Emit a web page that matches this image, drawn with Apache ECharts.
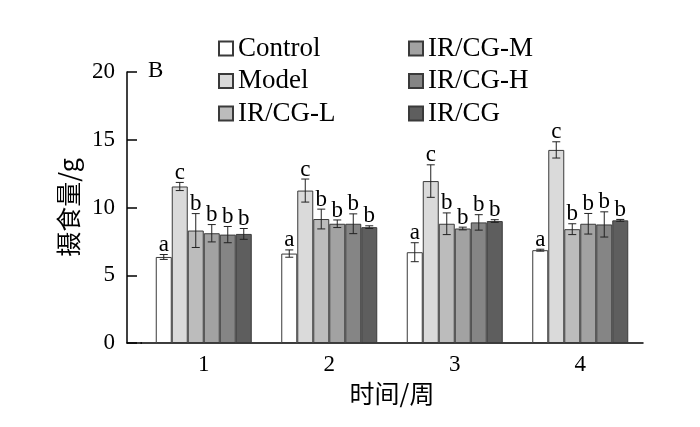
<!DOCTYPE html>
<html>
<head>
<meta charset="utf-8">
<script src="https://cdn.jsdelivr.net/npm/echarts@6/dist/echarts.min.js"></script>
<style>html,body{margin:0;padding:0;background:#fff;}#c{width:700px;height:427px;}</style>
</head>
<body>
<div id="c"></div>
<script>
const categories = ['1', '2', '3', '4'];
const seriesNames = ['Control', 'Model', 'IR/CG-L', 'IR/CG-M', 'IR/CG-H', 'IR/CG'];
const control = [6.35, 6.6, 6.7, 6.85];
const model = [11.55, 11.25, 11.95, 14.25];
const irL = [8.3, 9.15, 8.8, 8.4];
const irM = [8.1, 8.8, 8.45, 8.8];
const irH = [8.0, 8.8, 8.9, 8.75];
const ir = [8.05, 8.55, 9.0, 9.05];
const controlErr = [0.18, 0.27, 0.7, 0.07];
const modelErr = [0.3, 0.85, 1.2, 0.6];
const irLErr = [1.25, 0.73, 0.8, 0.4];
const irMErr = [0.64, 0.28, 0.1, 0.76];
const irHErr = [0.6, 0.73, 0.57, 0.93];
const irErr = [0.4, 0.1, 0.1, 0.07];
const letters = ['a', 'c', 'b', 'b', 'b', 'b'];
const yTicks = [0, 5, 10, 15, 20];

const values = [control, model, irL, irM, irH, ir];
const errors = [controlErr, modelErr, irLErr, irMErr, irHErr, irErr];
const colors = ['#ffffff', '#dadada', '#bcbcbc', '#a2a2a2', '#858585', '#5e5e5e'];
const BAR_W = 16;
const SERIF = '"Liberation Serif", "Times New Roman", serif';
const CJK = '"Noto Sans CJK SC", sans-serif';

const errData = [];
values.forEach((arr, si) => arr.forEach((v, ci) => errData.push([ci, si, v, errors[si][ci]])));

const chart = echarts.init(document.getElementById('c'), null, {renderer: 'canvas'});
const barSeries = seriesNames.map((n, i) => ({
  name: n, type: 'bar', data: values[i], barWidth: BAR_W, barGap: '0%',
  itemStyle: {color: colors[i], borderColor: '#3a3a3a', borderWidth: 1},
  emphasis: {disabled: true}
}));

const legendCommon = {
  orient: 'vertical', top: 35, padding: 0, itemWidth: 14, itemHeight: 14, itemGap: 5.5, icon: 'rect',
  textStyle: {fontFamily: SERIF, fontSize: 27, color: '#000', lineHeight: 27},
  selectedMode: false
};

chart.setOption({
  animation: false,
  backgroundColor: '#fff',
  title: {text: 'B', left: 148, top: 59, padding: 0, textStyle: {fontFamily: SERIF, fontSize: 23, fontWeight: 'normal', color: '#000'}},
  legend: [
    Object.assign({}, legendCommon, {left: 218, data: seriesNames.slice(0, 3)}),
    Object.assign({}, legendCommon, {left: 408, data: seriesNames.slice(3)})
  ],
  grid: {left: 141, right: 57, top: 72, bottom: 84, containLabel: false},
  xAxis: {
    type: 'category', data: categories,
    axisLine: {lineStyle: {color: '#000', width: 1.5}},
    axisTick: {inside: true, length: 10, lineStyle: {color: '#000', width: 1.5}, interval: function (i) { return i > 0; }},
    axisLabel: {fontFamily: SERIF, fontSize: 23, color: '#000', margin: 10},
    name: '时间/周', nameLocation: 'middle', nameGap: 36,
    nameTextStyle: {fontFamily: CJK, fontSize: 25, color: '#000'}
  },
  yAxis: {
    type: 'value', min: 0, max: 20, interval: 5, offset: 14,
    axisLine: {show: true, lineStyle: {color: '#000', width: 1.5}},
    axisTick: {show: true, inside: true, length: 10, lineStyle: {color: '#000', width: 1.5}},
    axisLabel: {fontFamily: SERIF, fontSize: 23, color: '#000', margin: 12,
      formatter: v => (yTicks.indexOf(v) >= 0 ? String(v) : '')},
    splitLine: {show: false},
    name: '摄食量/g', nameLocation: 'middle', nameGap: 42,
    nameTextStyle: {fontFamily: CJK, fontSize: 25, color: '#000'}
  },
  graphic: [{type: 'line', shape: {x1: 126.5, y1: 343, x2: 142, y2: 343}, style: {stroke: '#000', lineWidth: 1.5}}],
  series: barSeries.concat([{
    type: 'custom', data: errData, z: 5, silent: true,
    encode: {x: 0, y: 2},
    renderItem: function (params, api) {
      const ci = api.value(0), si = api.value(1), v = api.value(2), e = api.value(3);
      const c = api.coord([ci, v]);
      const x = c[0] + (si - 2.5) * BAR_W;
      const top = api.coord([ci, v + e])[1];
      const bot = api.coord([ci, v - e])[1];
      const st = {stroke: '#222', lineWidth: 1};
      return {type: 'group', children: [
        {type: 'line', shape: {x1: x, y1: top, x2: x, y2: bot}, style: st},
        {type: 'line', shape: {x1: x - 4, y1: top, x2: x + 4, y2: top}, style: st},
        {type: 'line', shape: {x1: x - 4, y1: bot, x2: x + 4, y2: bot}, style: st},
        {type: 'text', x: x, y: top + 2, style: {text: letters[si], fill: '#000', font: '23px ' + SERIF, textAlign: 'center', textVerticalAlign: 'bottom'}}
      ]};
    }
  }])
});
</script>
</body>
</html>
